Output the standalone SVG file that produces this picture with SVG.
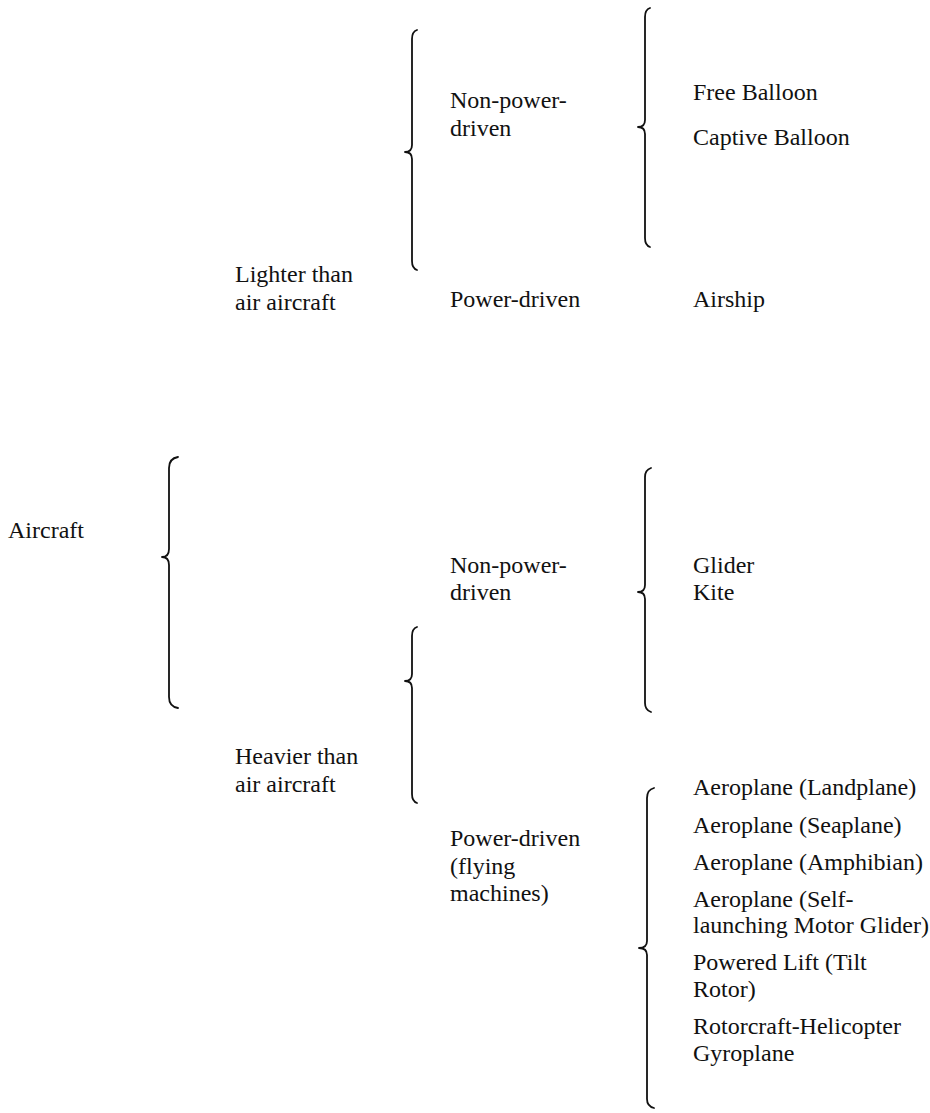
<svg xmlns="http://www.w3.org/2000/svg" width="930" height="1113" viewBox="0 0 930 1113">
<style>
text { font-family: "Liberation Serif", "Times New Roman", serif; font-size: 24px; fill: #111; }
.brace { fill: none; stroke: #111; stroke-width: 1.8; stroke-linecap: round; stroke-linejoin: round; }
</style>
<rect width="930" height="1113" fill="#ffffff"/>
<g id="connectors">
  <path class="brace" d="M178,457 C172,458 169,462 169,468 L169,549 C169,554 167,557 162,557 C167,557 169,560 169,565 L169,697 C169,703 172,707 178,708"/>
  <path class="brace" d="M417,30 C414,31 412,34 412,39 L412,145 C412,150 410,152 405,152 C410,152 412,154 412,159 L412,261 C412,266 414,269 417,270"/>
  <path class="brace" d="M650,8 C647,9 645,12 645,17 L645,120 C645,125 643,127 638,127 C643,127 645,129 645,134 L645,238 C645,243 647,246 650,247"/>
  <path class="brace" d="M417,627 C414,628 412,631 412,636 L412,674 C412,679 410,681 405,681 C410,681 412,683 412,688 L412,794 C412,799 414,802 417,803"/>
  <path class="brace" d="M651,468 C648,469 645,472 645,477 L645,585 C645,590 643,592 638,592 C643,592 645,594 645,599 L645,703 C645,708 648,711 651,712"/>
  <path class="brace" d="M654,788 C650,789 647,792 647,798 L647,941 C647,946 644,948 639,948 C644,948 647,950 647,955 L647,1099 C647,1104 650,1107 654,1108"/>
</g>
<g font-family="Liberation Serif, serif" font-size="24">
<g id="aircraft"><text x="8" y="538">Aircraft</text></g>
<g id="lighter"><text x="235" y="282">Lighter than</text><text x="235" y="309.5">air aircraft</text></g>
<g id="heavier"><text x="235" y="764">Heavier than</text><text x="235" y="792">air aircraft</text></g>
<g id="lta-non-power"><text x="450" y="108">Non-power-</text><text x="450" y="136">driven</text></g>
<g id="lta-power"><text x="450" y="307">Power-driven</text></g>
<g id="hta-non-power"><text x="450" y="573">Non-power-</text><text x="450" y="600">driven</text></g>
<g id="hta-power"><text x="450" y="846">Power-driven</text><text x="450" y="873.5">(flying</text><text x="450" y="901">machines)</text></g>
<g id="free-balloon"><text x="693" y="100">Free Balloon</text></g>
<g id="captive-balloon"><text x="693" y="145">Captive Balloon</text></g>
<g id="airship"><text x="693" y="307">Airship</text></g>
<g id="glider"><text x="693" y="573">Glider</text></g>
<g id="kite"><text x="693" y="600">Kite</text></g>
<g id="landplane"><text x="693" y="795">Aeroplane (Landplane)</text></g>
<g id="seaplane"><text x="693" y="833">Aeroplane (Seaplane)</text></g>
<g id="amphibian"><text x="693" y="870">Aeroplane (Amphibian)</text></g>
<g id="motor-glider"><text x="693" y="906.5">Aeroplane (Self-</text><text x="693" y="933">launching Motor Glider)</text></g>
<g id="powered-lift"><text x="693" y="970">Powered Lift (Tilt</text><text x="693" y="997">Rotor)</text></g>
<g id="rotorcraft"><text x="693" y="1034">Rotorcraft-Helicopter</text><text x="693" y="1061">Gyroplane</text></g>
</g>
</svg>
